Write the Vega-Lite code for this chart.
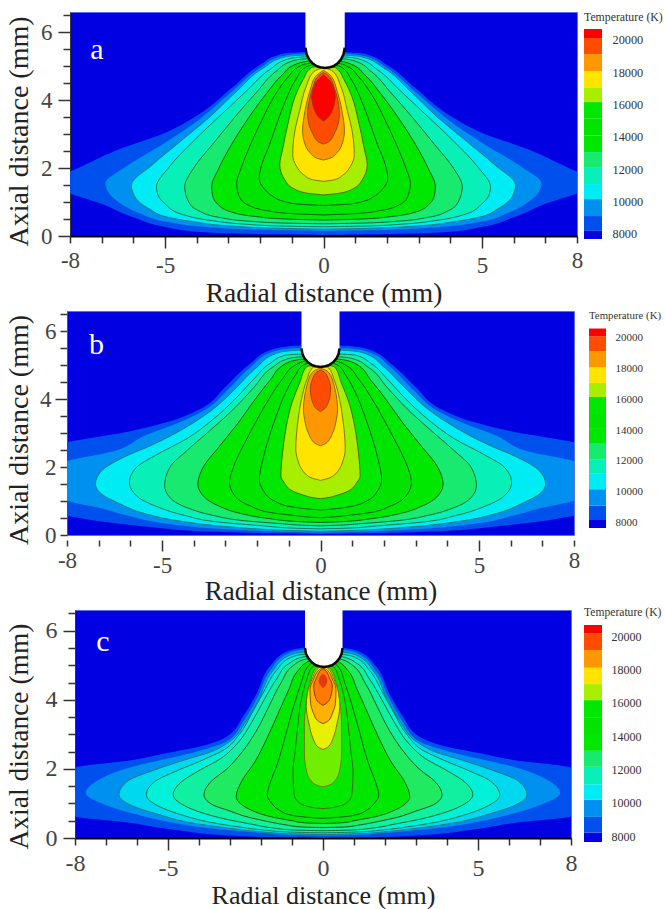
{"$schema":"https://vega.github.io/schema/vega-lite/v6.json","padding":{"left":3,"top":3,"right":0,"bottom":0},"background":"white","spacing":-5,"align":"none","columns":1,"config":{"font":"Liberation Serif","view":{"stroke":null}},
"concat":[
{"resolve":{"scale":{"fill":"independent"}},"spacing":0,"hconcat":[
{"width":1,"height":1,"data":{"values":[]},"mark":"point","encoding":{}},
{"width":507,"height":224,"view":{"fill":"#0000e2","stroke":"#5a70e8"},
"encoding":{
"y":{"field":"y","type":"quantitative","scale":{"domain":[0,6.6],"nice":false,"zero":false},"axis":{"title":"Axial distance (mm)","titleFontSize":28,"titleFontWeight":"normal","titleColor":"#222","titlePadding":7.5,"titleY":119,"values":[0,0.5,1,1.5,2,2.5,3,3.5,4,4.5,5,5.5,6,6.5],"labelExpr":"datum.value%2===0?''+datum.value:''","labelFontSize":23,"labelColor":"#444","labelPadding":6,"grid":false,"domainColor":"#333","domainWidth":1,"tickColor":"#333","tickWidth":1.5,"tickSize":{"condition":{"test":"datum.value%2===0","value":12},"value":7},"labelOverlap":false,"labelBound":false,"labelFlush":false}},
"x":{"field":"a","type":"quantitative","scale":{"domain":[-8,8],"nice":false,"zero":false},"axis":{"title":"Radial distance (mm)","titleFontSize":27.5,"titleFontWeight":"normal","titleColor":"#222","titlePadding":2,"values":[-8,-7,-6,-5,-4,-3,-2,-1,0,1,2,3,4,5,6,7,8],"labelExpr":"indexof([-8,-5,0,5,8],datum.value)>=0?(datum.value<0?'-':'')+abs(datum.value):''","labelFontSize":23,"labelColor":"#444","labelPadding":6,"grid":false,"domainColor":"#000","domainWidth":2,"tickColor":"#333","tickWidth":1.5,"tickSize":{"condition":{"test":"indexof([-5,0,5],datum.value)>=0","value":12},"value":7},"labelOverlap":false,"labelBound":false,"labelFlush":false}}},
"layer":[
{"data":{"values":[
{"k":1,"y":0.03,"a":0,"b":0},{"k":1,"y":0.05,"a":-1.5,"b":1.5},{"k":1,"y":0.08,"a":-3,"b":3},{"k":1,"y":0.12,"a":-3.9,"b":3.9},{"k":1,"y":0.26,"a":-4.95,"b":4.95},{"k":1,"y":0.55,"a":-6,"b":6},{"k":1,"y":0.97,"a":-7.07,"b":7.07},{"k":1,"y":1.25,"a":-8,"b":8},{"k":1,"y":1.57,"a":-8.9,"b":8.9},{"k":1,"y":1.9,"a":-8,"b":8},{"k":1,"y":2.53,"a":-6.53,"b":6.53},{"k":1,"y":3.06,"a":-4.95,"b":4.95},{"k":1,"y":3.6,"a":-3.9,"b":3.9},{"k":1,"y":4.38,"a":-2.87,"b":2.87},{"k":1,"y":5.03,"a":-2.02,"b":2.02},{"k":1,"y":5.37,"a":-1.29,"b":1.29},{"k":1,"y":5.42,"a":-0.6,"b":0.6},{"k":1,"y":5.45,"a":0,"b":0},
{"k":2,"y":0.15,"a":0,"b":0},{"k":2,"y":0.17,"a":-1.5,"b":1.5},{"k":2,"y":0.2,"a":-2.5,"b":2.5},{"k":2,"y":0.26,"a":-3.6,"b":3.6},{"k":2,"y":0.42,"a":-4.95,"b":4.95},{"k":2,"y":0.67,"a":-5.8,"b":5.8},{"k":2,"y":1.06,"a":-6.55,"b":6.55},{"k":2,"y":1.55,"a":-6.88,"b":6.88},{"k":2,"y":2,"a":-6.3,"b":6.3},{"k":2,"y":2.75,"a":-5,"b":5},{"k":2,"y":3.45,"a":-3.9,"b":3.9},{"k":2,"y":4.25,"a":-2.9,"b":2.9},{"k":2,"y":4.95,"a":-2,"b":2},{"k":2,"y":5.3,"a":-1.3,"b":1.3},{"k":2,"y":5.38,"a":-0.6,"b":0.6},{"k":2,"y":5.4,"a":0,"b":0},
{"k":3,"y":0.2,"a":0,"b":0},{"k":3,"y":0.23,"a":-1.5,"b":1.5},{"k":3,"y":0.3,"a":-3,"b":3},{"k":3,"y":0.42,"a":-4.1,"b":4.1},{"k":3,"y":0.55,"a":-4.9,"b":4.9},{"k":3,"y":0.8,"a":-5.5,"b":5.5},{"k":3,"y":1.15,"a":-5.95,"b":5.95},{"k":3,"y":1.5,"a":-6.06,"b":6.06},{"k":3,"y":2.1,"a":-5.4,"b":5.4},{"k":3,"y":2.8,"a":-4.5,"b":4.5},{"k":3,"y":3.5,"a":-3.6,"b":3.6},{"k":3,"y":4.3,"a":-2.7,"b":2.7},{"k":3,"y":4.95,"a":-1.9,"b":1.9},{"k":3,"y":5.28,"a":-1.2,"b":1.2},{"k":3,"y":5.33,"a":-0.6,"b":0.6},{"k":3,"y":5.35,"a":0,"b":0},
{"k":4,"y":0.27,"a":0,"b":0},{"k":4,"y":0.29,"a":-1.2,"b":1.2},{"k":4,"y":0.35,"a":-2.5,"b":2.5},{"k":4,"y":0.45,"a":-3.5,"b":3.5},{"k":4,"y":0.65,"a":-4.5,"b":4.5},{"k":4,"y":0.95,"a":-5,"b":5},{"k":4,"y":1.2,"a":-5.22,"b":5.22},{"k":4,"y":1.45,"a":-5.27,"b":5.27},{"k":4,"y":2,"a":-4.9,"b":4.9},{"k":4,"y":2.8,"a":-4.1,"b":4.1},{"k":4,"y":3.6,"a":-3.2,"b":3.2},{"k":4,"y":4.3,"a":-2.4,"b":2.4},{"k":4,"y":4.9,"a":-1.7,"b":1.7},{"k":4,"y":5.22,"a":-1.1,"b":1.1},{"k":4,"y":5.28,"a":-0.6,"b":0.6},{"k":4,"y":5.3,"a":0,"b":0},
{"k":5,"y":0.36,"a":0,"b":0},{"k":5,"y":0.38,"a":-1.2,"b":1.2},{"k":5,"y":0.44,"a":-2.4,"b":2.4},{"k":5,"y":0.55,"a":-3.3,"b":3.3},{"k":5,"y":0.75,"a":-3.95,"b":3.95},{"k":5,"y":1,"a":-4.25,"b":4.25},{"k":5,"y":1.45,"a":-4.38,"b":4.38},{"k":5,"y":2,"a":-4.1,"b":4.1},{"k":5,"y":2.7,"a":-3.5,"b":3.5},{"k":5,"y":3.5,"a":-2.8,"b":2.8},{"k":5,"y":4.25,"a":-2.1,"b":2.1},{"k":5,"y":4.85,"a":-1.5,"b":1.5},{"k":5,"y":5.15,"a":-1,"b":1},{"k":5,"y":5.22,"a":-0.6,"b":0.6},{"k":5,"y":5.25,"a":0,"b":0},
{"k":6,"y":0.47,"a":0,"b":0},{"k":6,"y":0.5,"a":-1.2,"b":1.2},{"k":6,"y":0.58,"a":-2.2,"b":2.2},{"k":6,"y":0.72,"a":-2.95,"b":2.95},{"k":6,"y":0.95,"a":-3.35,"b":3.35},{"k":6,"y":1.2,"a":-3.5,"b":3.5},{"k":6,"y":1.45,"a":-3.53,"b":3.53},{"k":6,"y":2,"a":-3.3,"b":3.3},{"k":6,"y":2.7,"a":-2.9,"b":2.9},{"k":6,"y":3.5,"a":-2.35,"b":2.35},{"k":6,"y":4.2,"a":-1.8,"b":1.8},{"k":6,"y":4.75,"a":-1.3,"b":1.3},{"k":6,"y":5.05,"a":-0.9,"b":0.9},{"k":6,"y":5.15,"a":-0.5,"b":0.5},{"k":6,"y":5.18,"a":0,"b":0},
{"k":7,"y":0.62,"a":0,"b":0},{"k":7,"y":0.66,"a":-1,"b":1},{"k":7,"y":0.75,"a":-1.8,"b":1.8},{"k":7,"y":0.9,"a":-2.35,"b":2.35},{"k":7,"y":1.15,"a":-2.65,"b":2.65},{"k":7,"y":1.55,"a":-2.74,"b":2.74},{"k":7,"y":2,"a":-2.6,"b":2.6},{"k":7,"y":2.7,"a":-2.3,"b":2.3},{"k":7,"y":3.5,"a":-1.9,"b":1.9},{"k":7,"y":4.2,"a":-1.5,"b":1.5},{"k":7,"y":4.7,"a":-1.1,"b":1.1},{"k":7,"y":5,"a":-0.75,"b":0.75},{"k":7,"y":5.1,"a":-0.4,"b":0.4},{"k":7,"y":5.13,"a":0,"b":0},
{"k":8,"y":0.9,"a":0,"b":0},{"k":8,"y":0.94,"a":-0.8,"b":0.8},{"k":8,"y":1.02,"a":-1.25,"b":1.25},{"k":8,"y":1.17,"a":-1.6,"b":1.6},{"k":8,"y":1.37,"a":-1.85,"b":1.85},{"k":8,"y":1.7,"a":-2.03,"b":2.03},{"k":8,"y":2.1,"a":-1.95,"b":1.95},{"k":8,"y":2.7,"a":-1.7,"b":1.7},{"k":8,"y":3.5,"a":-1.4,"b":1.4},{"k":8,"y":4.1,"a":-1.15,"b":1.15},{"k":8,"y":4.65,"a":-0.85,"b":0.85},{"k":8,"y":4.95,"a":-0.6,"b":0.6},{"k":8,"y":5.05,"a":-0.3,"b":0.3},{"k":8,"y":5.08,"a":0,"b":0},
{"k":9,"y":1.21,"a":0,"b":0},{"k":9,"y":1.26,"a":-0.5,"b":0.5},{"k":9,"y":1.4,"a":-0.95,"b":0.95},{"k":9,"y":1.65,"a":-1.22,"b":1.22},{"k":9,"y":2.1,"a":-1.38,"b":1.38},{"k":9,"y":2.6,"a":-1.28,"b":1.28},{"k":9,"y":3.4,"a":-1.1,"b":1.1},{"k":9,"y":4.1,"a":-0.9,"b":0.9},{"k":9,"y":4.6,"a":-0.65,"b":0.65},{"k":9,"y":4.95,"a":-0.4,"b":0.4},{"k":9,"y":5.03,"a":0,"b":0},
{"k":10,"y":1.61,"a":0,"b":0},{"k":10,"y":1.66,"a":-0.35,"b":0.35},{"k":10,"y":1.8,"a":-0.62,"b":0.62},{"k":10,"y":2.05,"a":-0.85,"b":0.85},{"k":10,"y":2.4,"a":-0.97,"b":0.97},{"k":10,"y":3,"a":-0.92,"b":0.92},{"k":10,"y":3.7,"a":-0.75,"b":0.75},{"k":10,"y":4.4,"a":-0.55,"b":0.55},{"k":10,"y":4.85,"a":-0.3,"b":0.3},{"k":10,"y":4.97,"a":0,"b":0},
{"k":11,"y":2.24,"a":0,"b":0},{"k":11,"y":2.29,"a":-0.2,"b":0.2},{"k":11,"y":2.45,"a":-0.42,"b":0.42},{"k":11,"y":2.75,"a":-0.6,"b":0.6},{"k":11,"y":3.1,"a":-0.66,"b":0.66},{"k":11,"y":3.7,"a":-0.58,"b":0.58},{"k":11,"y":4.3,"a":-0.42,"b":0.42},{"k":11,"y":4.7,"a":-0.25,"b":0.25},{"k":11,"y":4.88,"a":0,"b":0},
{"k":12,"y":2.71,"a":0,"b":0},{"k":12,"y":2.78,"a":-0.17,"b":0.17},{"k":12,"y":3,"a":-0.33,"b":0.33},{"k":12,"y":3.3,"a":-0.46,"b":0.46},{"k":12,"y":3.6,"a":-0.5,"b":0.5},{"k":12,"y":4,"a":-0.45,"b":0.45},{"k":12,"y":4.4,"a":-0.33,"b":0.33},{"k":12,"y":4.7,"a":-0.18,"b":0.18},{"k":12,"y":4.82,"a":0,"b":0},
{"k":13,"y":3.39,"a":0,"b":0},{"k":13,"y":3.47,"a":-0.12,"b":0.12},{"k":13,"y":3.65,"a":-0.25,"b":0.25},{"k":13,"y":3.9,"a":-0.34,"b":0.34},{"k":13,"y":4.1,"a":-0.37,"b":0.37},{"k":13,"y":4.35,"a":-0.32,"b":0.32},{"k":13,"y":4.6,"a":-0.18,"b":0.18},{"k":13,"y":4.75,"a":0,"b":0}
]},"mark":{"type":"area","orient":"horizontal","interpolate":"monotone","clip":true,"strokeWidth":1},"encoding":{
"x2":{"field":"b"},
"fill":{"field":"k","type":"ordinal","legend":null,"scale":{"domain":[0,1,2,3,4,5,6,7,8,9,10,11,12,13],"range":["#0000e2","#0050ee","#0090f0","#00ecf5","#08f0b8","#18ea70","#00e800","#00e400","#00e800","#a8ee00","#ffe400","#ff9800","#ff4c00","#ff0000"]}},
"stroke":{"field":"k","type":"ordinal","legend":null,"scale":{"domain":[1,2,3,4,5,6,7,8,9,10,11,12,13],"range":["transparent","transparent","#1a7f7f","#1a7a50","#1a6a30","#145a20","#145a20","#145a20","#4a6a10","#7a7a10","#8a6a10","#8a5010","#a03010"]}}}},
{"data":{"values":[{"y":4.95,"a":0.05,"b":0.05},{"y":4.97,"a":-0.1,"b":0.2},{"y":5,"a":-0.21,"b":0.31},{"y":5.05,"a":-0.29,"b":0.39},{"y":5.1,"a":-0.36,"b":0.46},{"y":5.2,"a":-0.45,"b":0.55},{"y":5.35,"a":-0.53,"b":0.63},{"y":5.55,"a":-0.57,"b":0.67},{"y":6.62,"a":-0.57,"b":0.67}]},"mark":{"type":"area","orient":"horizontal","color":"white","clip":true},"encoding":{"x2":{"field":"b"}}},
{"data":{"values":[{"a":-0.57,"y":5.55},{"a":-0.53,"y":5.35},{"a":-0.45,"y":5.2},{"a":-0.36,"y":5.1},{"a":-0.29,"y":5.05},{"a":-0.21,"y":5},{"a":-0.1,"y":4.97},{"a":0.05,"y":4.95},{"a":0.2,"y":4.97},{"a":0.31,"y":5},{"a":0.39,"y":5.05},{"a":0.46,"y":5.1},{"a":0.55,"y":5.2},{"a":0.63,"y":5.35},{"a":0.67,"y":5.55}]},"mark":{"type":"line","color":"#0a0a0a","strokeWidth":2.5}},
{"data":{"values":[{"a":-7.15,"y":5.47,"t":"a"}]},"mark":{"type":"text","color":"white","fontSize":30},"encoding":{"text":{"field":"t"}}}
]},
{"width":18,"height":227,
"encoding":{"x":{"field":"x0","type":"quantitative","scale":{"domain":[0,1],"nice":false},"axis":null},"y":{"field":"t0","type":"quantitative","scale":{"domain":[7690,21732],"nice":false,"zero":false},"axis":{"orient":"right","title":null,"values":[8000,10000,12000,14000,16000,18000,20000],"format":"d","domain":false,"ticks":false,"grid":false,"labelFontSize":12.3,"labelColor":"#333","labelPadding":10}}},
"layer":[
{"data":{"values":[{"k":0,"t0":7690,"t1":8190,"x0":0,"x1":1},{"k":1,"t0":8190,"t1":9110,"x0":0,"x1":1},{"k":2,"t0":9110,"t1":10160,"x0":0,"x1":1},{"k":3,"t0":10160,"t1":11090,"x0":0,"x1":1},{"k":4,"t0":11090,"t1":12140,"x0":0,"x1":1},{"k":5,"t0":12140,"t1":13070,"x0":0,"x1":1},{"k":6,"t0":13070,"t1":14100,"x0":0,"x1":1},{"k":7,"t0":14100,"t1":15130,"x0":0,"x1":1},{"k":8,"t0":15130,"t1":16160,"x0":0,"x1":1},{"k":9,"t0":16160,"t1":17030,"x0":0,"x1":1},{"k":10,"t0":17030,"t1":18080,"x0":0,"x1":1},{"k":11,"t0":18080,"t1":19130,"x0":0,"x1":1},{"k":12,"t0":19130,"t1":20120,"x0":0,"x1":1},{"k":13,"t0":20120,"t1":20680,"x0":0,"x1":1}]},"mark":{"type":"rect"},"encoding":{"x2":{"field":"x1"},"y2":{"field":"t1"},"fill":{"field":"k","type":"ordinal","legend":null,"scale":{"domain":[0,1,2,3,4,5,6,7,8,9,10,11,12,13],"range":["#0000e2","#0050ee","#0090f0","#00ecf5","#08f0b8","#18ea70","#00e800","#00e400","#00e800","#a8ee00","#ffe400","#ff9800","#ff4c00","#ff0000"]}}}},
{"data":{"values":[{"x0":0,"t0":21423,"s":"Temperature (K)"}]},"mark":{"type":"text","align":"left","fontSize":11.8,"color":"#333"},"encoding":{"text":{"field":"s"}}}
]}
]},
{"resolve":{"scale":{"fill":"independent"}},"spacing":0,"hconcat":[
{"width":1,"height":1,"data":{"values":[]},"mark":"point","encoding":{}},
{"width":507,"height":224,"view":{"fill":"#0000e2","stroke":"#5a70e8"},
"encoding":{
"y":{"field":"y","type":"quantitative","scale":{"domain":[0,6.6],"nice":false,"zero":false},"axis":{"title":"Axial distance (mm)","titleFontSize":28,"titleFontWeight":"normal","titleColor":"#222","titlePadding":6.5,"titleY":118.5,"values":[0,0.5,1,1.5,2,2.5,3,3.5,4,4.5,5,5.5,6,6.5],"labelExpr":"datum.value%2===0?''+datum.value:''","labelFontSize":23,"labelColor":"#444","labelPadding":4,"grid":false,"domainColor":"#555","domainWidth":1,"tickColor":"#333","tickWidth":1.5,"tickSize":{"condition":{"test":"datum.value===4","value":12},"value":7},"labelOverlap":false,"labelBound":false,"labelFlush":false}},
"x":{"field":"a","type":"quantitative","scale":{"domain":[-8,8],"nice":false,"zero":false},"axis":{"title":"Radial distance (mm)","titleFontSize":27,"titleFontWeight":"normal","titleColor":"#222","titlePadding":1,"offset":5,"values":[-8,-7,-6,-5,-4,-3,-2,-1,0,1,2,3,4,5,6,7,8],"labelExpr":"indexof([-8,-5,0,5,8],datum.value)>=0?(datum.value<0?'-':'')+abs(datum.value):''","labelFontSize":23,"labelColor":"#444","labelPadding":3,"grid":false,"domain":false,"tickColor":"#333","tickWidth":1.5,"tickSize":{"condition":{"test":"indexof([-5,0,5],datum.value)>=0","value":11},"value":6},"labelOverlap":false,"labelBound":false,"labelFlush":false}}},
"layer":[
{"data":{"values":[
{"k":1,"y":0.03,"a":0,"b":0},{"k":1,"y":0.05,"a":-1.5,"b":1.5},{"k":1,"y":0.1,"a":-3.5,"b":3.5},{"k":1,"y":0.2,"a":-5,"b":5},{"k":1,"y":0.35,"a":-6.5,"b":6.5},{"k":1,"y":0.57,"a":-8,"b":8},{"k":1,"y":0.8,"a":-9,"b":9},{"k":1,"y":1.5,"a":-9.8,"b":9.8},{"k":1,"y":2.5,"a":-9,"b":9},{"k":1,"y":2.73,"a":-8,"b":8},{"k":1,"y":3.07,"a":-5.93,"b":5.93},{"k":1,"y":3.32,"a":-4.86,"b":4.86},{"k":1,"y":3.7,"a":-3.82,"b":3.82},{"k":1,"y":4.39,"a":-2.97,"b":2.97},{"k":1,"y":5.03,"a":-2.24,"b":2.24},{"k":1,"y":5.47,"a":-1.5,"b":1.5},{"k":1,"y":5.56,"a":-1,"b":1},{"k":1,"y":5.58,"a":-0.6,"b":0.6},{"k":1,"y":5.6,"a":0,"b":0},
{"k":2,"y":0.07,"a":0,"b":0},{"k":2,"y":0.09,"a":-1,"b":1},{"k":2,"y":0.12,"a":-2,"b":2},{"k":2,"y":0.2,"a":-3.5,"b":3.5},{"k":2,"y":0.35,"a":-5,"b":5},{"k":2,"y":0.55,"a":-6,"b":6},{"k":2,"y":0.8,"a":-7,"b":7},{"k":2,"y":1,"a":-8,"b":8},{"k":2,"y":1.5,"a":-9,"b":9},{"k":2,"y":2.17,"a":-8,"b":8},{"k":2,"y":2.45,"a":-6.6,"b":6.6},{"k":2,"y":2.95,"a":-5.5,"b":5.5},{"k":2,"y":3.3,"a":-4.5,"b":4.5},{"k":2,"y":3.65,"a":-3.7,"b":3.7},{"k":2,"y":4.3,"a":-2.9,"b":2.9},{"k":2,"y":4.95,"a":-2.2,"b":2.2},{"k":2,"y":5.4,"a":-1.5,"b":1.5},{"k":2,"y":5.49,"a":-1,"b":1},{"k":2,"y":5.51,"a":-0.6,"b":0.6},{"k":2,"y":5.53,"a":0,"b":0},
{"k":3,"y":0.11,"a":0,"b":0},{"k":3,"y":0.14,"a":-1.2,"b":1.2},{"k":3,"y":0.18,"a":-2,"b":2},{"k":3,"y":0.25,"a":-3,"b":3},{"k":3,"y":0.42,"a":-4.5,"b":4.5},{"k":3,"y":0.62,"a":-5.5,"b":5.5},{"k":3,"y":0.95,"a":-6.4,"b":6.4},{"k":3,"y":1.2,"a":-6.9,"b":6.9},{"k":3,"y":1.5,"a":-7.1,"b":7.1},{"k":3,"y":1.9,"a":-6.9,"b":6.9},{"k":3,"y":2.25,"a":-6.3,"b":6.3},{"k":3,"y":2.7,"a":-5.2,"b":5.2},{"k":3,"y":3.2,"a":-4.2,"b":4.2},{"k":3,"y":3.7,"a":-3.4,"b":3.4},{"k":3,"y":4.3,"a":-2.7,"b":2.7},{"k":3,"y":4.95,"a":-2,"b":2},{"k":3,"y":5.35,"a":-1.4,"b":1.4},{"k":3,"y":5.43,"a":-0.95,"b":0.95},{"k":3,"y":5.45,"a":-0.6,"b":0.6},{"k":3,"y":5.47,"a":0,"b":0},
{"k":4,"y":0.18,"a":0,"b":0},{"k":4,"y":0.2,"a":-0.8,"b":0.8},{"k":4,"y":0.27,"a":-1.8,"b":1.8},{"k":4,"y":0.38,"a":-3.2,"b":3.2},{"k":4,"y":0.58,"a":-4.3,"b":4.3},{"k":4,"y":0.85,"a":-5.2,"b":5.2},{"k":4,"y":1.15,"a":-5.8,"b":5.8},{"k":4,"y":1.55,"a":-6.03,"b":6.03},{"k":4,"y":2,"a":-5.8,"b":5.8},{"k":4,"y":2.35,"a":-5.2,"b":5.2},{"k":4,"y":2.85,"a":-4.2,"b":4.2},{"k":4,"y":3.4,"a":-3.4,"b":3.4},{"k":4,"y":4,"a":-2.7,"b":2.7},{"k":4,"y":4.6,"a":-2.1,"b":2.1},{"k":4,"y":5.05,"a":-1.6,"b":1.6},{"k":4,"y":5.3,"a":-1.1,"b":1.1},{"k":4,"y":5.33,"a":-0.6,"b":0.6},{"k":4,"y":5.35,"a":0,"b":0},
{"k":5,"y":0.27,"a":0,"b":0},{"k":5,"y":0.29,"a":-0.6,"b":0.6},{"k":5,"y":0.33,"a":-1.2,"b":1.2},{"k":5,"y":0.42,"a":-2.4,"b":2.4},{"k":5,"y":0.58,"a":-3.4,"b":3.4},{"k":5,"y":0.8,"a":-4.2,"b":4.2},{"k":5,"y":1.1,"a":-4.75,"b":4.75},{"k":5,"y":1.45,"a":-4.92,"b":4.92},{"k":5,"y":2,"a":-4.75,"b":4.75},{"k":5,"y":2.5,"a":-4.2,"b":4.2},{"k":5,"y":3.15,"a":-3.4,"b":3.4},{"k":5,"y":3.75,"a":-2.7,"b":2.7},{"k":5,"y":4.35,"a":-2.1,"b":2.1},{"k":5,"y":4.95,"a":-1.5,"b":1.5},{"k":5,"y":5.2,"a":-1,"b":1},{"k":5,"y":5.25,"a":-0.6,"b":0.6},{"k":5,"y":5.27,"a":0,"b":0},
{"k":6,"y":0.37,"a":0,"b":0},{"k":6,"y":0.39,"a":-0.6,"b":0.6},{"k":6,"y":0.48,"a":-1.6,"b":1.6},{"k":6,"y":0.63,"a":-2.5,"b":2.5},{"k":6,"y":0.85,"a":-3.2,"b":3.2},{"k":6,"y":1.15,"a":-3.7,"b":3.7},{"k":6,"y":1.5,"a":-3.87,"b":3.87},{"k":6,"y":2,"a":-3.7,"b":3.7},{"k":6,"y":2.6,"a":-3.2,"b":3.2},{"k":6,"y":3.3,"a":-2.6,"b":2.6},{"k":6,"y":3.95,"a":-2.1,"b":2.1},{"k":6,"y":4.55,"a":-1.6,"b":1.6},{"k":6,"y":5.05,"a":-1.1,"b":1.1},{"k":6,"y":5.18,"a":-0.6,"b":0.6},{"k":6,"y":5.2,"a":0,"b":0},
{"k":7,"y":0.51,"a":0,"b":0},{"k":7,"y":0.53,"a":-0.4,"b":0.4},{"k":7,"y":0.56,"a":-0.7,"b":0.7},{"k":7,"y":0.65,"a":-1.5,"b":1.5},{"k":7,"y":0.85,"a":-2.2,"b":2.2},{"k":7,"y":1.15,"a":-2.7,"b":2.7},{"k":7,"y":1.55,"a":-2.87,"b":2.87},{"k":7,"y":2,"a":-2.75,"b":2.75},{"k":7,"y":2.7,"a":-2.4,"b":2.4},{"k":7,"y":3.4,"a":-2,"b":2},{"k":7,"y":4.05,"a":-1.6,"b":1.6},{"k":7,"y":4.6,"a":-1.2,"b":1.2},{"k":7,"y":5,"a":-0.8,"b":0.8},{"k":7,"y":5.12,"a":-0.5,"b":0.5},{"k":7,"y":5.14,"a":0,"b":0},
{"k":8,"y":0.74,"a":0,"b":0},{"k":8,"y":0.76,"a":-0.3,"b":0.3},{"k":8,"y":0.83,"a":-0.9,"b":0.9},{"k":8,"y":1,"a":-1.45,"b":1.45},{"k":8,"y":1.3,"a":-1.8,"b":1.8},{"k":8,"y":1.65,"a":-1.93,"b":1.93},{"k":8,"y":2.1,"a":-1.85,"b":1.85},{"k":8,"y":2.8,"a":-1.65,"b":1.65},{"k":8,"y":3.5,"a":-1.4,"b":1.4},{"k":8,"y":4.2,"a":-1.1,"b":1.1},{"k":8,"y":4.7,"a":-0.8,"b":0.8},{"k":8,"y":5,"a":-0.55,"b":0.55},{"k":8,"y":5.07,"a":-0.3,"b":0.3},{"k":8,"y":5.09,"a":0,"b":0},
{"k":9,"y":1.07,"a":0,"b":0},{"k":9,"y":1.11,"a":-0.3,"b":0.3},{"k":9,"y":1.15,"a":-0.45,"b":0.45},{"k":9,"y":1.28,"a":-0.85,"b":0.85},{"k":9,"y":1.55,"a":-1.15,"b":1.15},{"k":9,"y":1.74,"a":-1.25,"b":1.25},{"k":9,"y":2.4,"a":-1.2,"b":1.2},{"k":9,"y":3.2,"a":-1.08,"b":1.08},{"k":9,"y":3.9,"a":-0.9,"b":0.9},{"k":9,"y":4.5,"a":-0.65,"b":0.65},{"k":9,"y":4.95,"a":-0.45,"b":0.45},{"k":9,"y":5.03,"a":0,"b":0},
{"k":10,"y":1.61,"a":0,"b":0},{"k":10,"y":1.67,"a":-0.25,"b":0.25},{"k":10,"y":1.78,"a":-0.45,"b":0.45},{"k":10,"y":1.95,"a":-0.6,"b":0.6},{"k":10,"y":2.25,"a":-0.73,"b":0.73},{"k":10,"y":2.53,"a":-0.78,"b":0.78},{"k":10,"y":3.3,"a":-0.72,"b":0.72},{"k":10,"y":4,"a":-0.6,"b":0.6},{"k":10,"y":4.6,"a":-0.42,"b":0.42},{"k":10,"y":4.93,"a":-0.25,"b":0.25},{"k":10,"y":4.98,"a":0,"b":0},
{"k":11,"y":2.63,"a":0,"b":0},{"k":11,"y":2.7,"a":-0.17,"b":0.17},{"k":11,"y":3,"a":-0.38,"b":0.38},{"k":11,"y":3.4,"a":-0.5,"b":0.5},{"k":11,"y":3.7,"a":-0.54,"b":0.54},{"k":11,"y":4.1,"a":-0.5,"b":0.5},{"k":11,"y":4.4,"a":-0.43,"b":0.43},{"k":11,"y":4.8,"a":-0.25,"b":0.25},{"k":11,"y":4.92,"a":0,"b":0},
{"k":12,"y":3.64,"a":0,"b":0},{"k":12,"y":3.72,"a":-0.13,"b":0.13},{"k":12,"y":3.85,"a":-0.22,"b":0.22},{"k":12,"y":4.1,"a":-0.3,"b":0.3},{"k":12,"y":4.3,"a":-0.32,"b":0.32},{"k":12,"y":4.6,"a":-0.25,"b":0.25},{"k":12,"y":4.8,"a":-0.12,"b":0.12},{"k":12,"y":4.86,"a":0,"b":0}
]},"mark":{"type":"area","orient":"horizontal","interpolate":"monotone","clip":true,"strokeWidth":1},"encoding":{
"x2":{"field":"b"},
"fill":{"field":"k","type":"ordinal","legend":null,"scale":{"domain":[0,1,2,3,4,5,6,7,8,9,10,11,12],"range":["#0000e2","#0050ee","#0090f0","#00ecf5","#08f0b8","#18ea70","#00e800","#00e400","#00e800","#a8ee00","#ffe400","#ff9800","#ff4c00"]}},
"stroke":{"field":"k","type":"ordinal","legend":null,"scale":{"domain":[1,2,3,4,5,6,7,8,9,10,11,12],"range":["transparent","transparent","#1a7f7f","#1a7a50","#1a6a30","#145a20","#145a20","#145a20","#4a6a10","#7a7a10","#8a6a10","#8a5010"]}}}},
{"data":{"values":[{"y":4.95,"a":0,"b":0},{"y":4.97,"a":-0.15,"b":0.15},{"y":5,"a":-0.26,"b":0.26},{"y":5.05,"a":-0.34,"b":0.34},{"y":5.1,"a":-0.41,"b":0.41},{"y":5.2,"a":-0.5,"b":0.5},{"y":5.33,"a":-0.57,"b":0.57},{"y":5.5,"a":-0.6,"b":0.6},{"y":6.62,"a":-0.6,"b":0.6}]},"mark":{"type":"area","orient":"horizontal","color":"white","clip":true},"encoding":{"x2":{"field":"b"}}},
{"data":{"values":[{"a":-0.6,"y":5.5},{"a":-0.57,"y":5.33},{"a":-0.5,"y":5.2},{"a":-0.41,"y":5.1},{"a":-0.34,"y":5.05},{"a":-0.26,"y":5},{"a":-0.15,"y":4.97},{"a":0,"y":4.95},{"a":0.15,"y":4.97},{"a":0.26,"y":5},{"a":0.34,"y":5.05},{"a":0.41,"y":5.1},{"a":0.5,"y":5.2},{"a":0.57,"y":5.33},{"a":0.6,"y":5.5}]},"mark":{"type":"line","color":"#0a0a0a","strokeWidth":2.5}},
{"data":{"values":[{"a":-7.07,"y":5.6,"t":"b"}]},"mark":{"type":"text","color":"white","fontSize":30},"encoding":{"text":{"field":"t"}}}
]},
{"width":8,"height":1,"data":{"values":[]},"mark":"point","encoding":{}},
{"width":17,"height":217,
"encoding":{"x":{"field":"x0","type":"quantitative","scale":{"domain":[0,1],"nice":false},"axis":null},"y":{"field":"t0","type":"quantitative","scale":{"domain":[7655,21722],"nice":false,"zero":false},"axis":{"orient":"right","title":null,"values":[8000,10000,12000,14000,16000,18000,20000],"format":"d","domain":false,"ticks":false,"grid":false,"labelFontSize":11,"labelColor":"#333","labelPadding":9}}},
"layer":[
{"data":{"values":[{"k":0,"t0":7655,"t1":8175,"x0":0,"x1":1},{"k":1,"t0":8175,"t1":9105,"x0":0,"x1":1},{"k":2,"t0":9105,"t1":10170,"x0":0,"x1":1},{"k":3,"t0":10170,"t1":11164,"x0":0,"x1":1},{"k":4,"t0":11164,"t1":12120,"x0":0,"x1":1},{"k":5,"t0":12120,"t1":13112,"x0":0,"x1":1},{"k":6,"t0":13112,"t1":14134,"x0":0,"x1":1},{"k":7,"t0":14134,"t1":15108,"x0":0,"x1":1},{"k":8,"t0":15108,"t1":16148,"x0":0,"x1":1},{"k":9,"t0":16148,"t1":17058,"x0":0,"x1":1},{"k":10,"t0":17058,"t1":18073,"x0":0,"x1":1},{"k":11,"t0":18073,"t1":19113,"x0":0,"x1":1},{"k":12,"t0":19113,"t1":20086,"x0":0,"x1":1},{"k":13,"t0":20086,"t1":20586,"x0":0,"x1":1}]},"mark":{"type":"rect"},"encoding":{"x2":{"field":"x1"},"y2":{"field":"t1"},"fill":{"field":"k","type":"ordinal","legend":null,"scale":{"domain":[0,1,2,3,4,5,6,7,8,9,10,11,12,13],"range":["#0000e2","#0050ee","#0090f0","#00ecf5","#08f0b8","#18ea70","#00e800","#00e400","#00e800","#a8ee00","#ffe400","#ff9800","#ff4c00","#ff0000"]}}}},
{"data":{"values":[{"x0":0,"t0":21366,"s":"Temperature (K)"}]},"mark":{"type":"text","align":"left","fontSize":10.8,"color":"#333"},"encoding":{"text":{"field":"s"}}}
]}
]},
{"resolve":{"scale":{"fill":"independent"}},"spacing":0,"hconcat":[
{"width":1,"height":1,"data":{"values":[]},"mark":"point","encoding":{}},
{"width":496,"height":228,"view":{"fill":"#0000e2","stroke":"#5a70e8"},
"encoding":{
"y":{"field":"y","type":"quantitative","scale":{"domain":[0,6.6],"nice":false,"zero":false},"axis":{"title":"Axial distance (mm)","titleFontSize":27.5,"titleFontWeight":"normal","titleColor":"#222","titlePadding":12,"titleY":126,"values":[0,0.5,1,1.5,2,2.5,3,3.5,4,4.5,5,5.5,6,6.5],"labelExpr":"datum.value%2===0?''+datum.value:''","labelFontSize":24,"labelColor":"#444","labelPadding":6,"grid":false,"domainColor":"#333","domainWidth":1,"tickColor":"#333","tickWidth":1.5,"tickSize":{"condition":{"test":"datum.value%2===0","value":12},"value":7},"labelOverlap":false,"labelBound":false,"labelFlush":false}},
"x":{"field":"a","type":"quantitative","scale":{"domain":[-8,8],"nice":false,"zero":false},"axis":{"title":"Radial distance (mm)","titleFontSize":26,"titleFontWeight":"normal","titleColor":"#222","titlePadding":2,"values":[-8,-7,-6,-5,-4,-3,-2,-1,0,1,2,3,4,5,6,7,8],"labelExpr":"indexof([-8,-5,0,5,8],datum.value)>=0?(datum.value<0?'-':'')+abs(datum.value):''","labelFontSize":24,"labelColor":"#444","labelPadding":6,"grid":false,"domainColor":"#000","domainWidth":2,"tickColor":"#333","tickWidth":1.5,"tickSize":{"condition":{"test":"indexof([-5,0,5],datum.value)>=0","value":12},"value":7},"labelOverlap":false,"labelBound":false,"labelFlush":false}}},
"layer":[
{"data":{"values":[
{"k":1,"y":0.01,"a":0,"b":0},{"k":1,"y":0.03,"a":-2,"b":2},{"k":1,"y":0.07,"a":-3,"b":3},{"k":1,"y":0.13,"a":-3.9,"b":3.9},{"k":1,"y":0.2,"a":-4.5,"b":4.5},{"k":1,"y":0.29,"a":-5.2,"b":5.2},{"k":1,"y":0.43,"a":-6.13,"b":6.13},{"k":1,"y":0.62,"a":-8,"b":8},{"k":1,"y":1.3,"a":-9.2,"b":9.2},{"k":1,"y":2.04,"a":-8,"b":8},{"k":1,"y":2.26,"a":-6.13,"b":6.13},{"k":1,"y":2.46,"a":-5.03,"b":5.03},{"k":1,"y":2.65,"a":-3.97,"b":3.97},{"k":1,"y":2.94,"a":-3.1,"b":3.1},{"k":1,"y":3.52,"a":-2.58,"b":2.58},{"k":1,"y":4.2,"a":-2.13,"b":2.13},{"k":1,"y":4.97,"a":-1.71,"b":1.71},{"k":1,"y":5.4,"a":-1.16,"b":1.16},{"k":1,"y":5.5,"a":-0.68,"b":0.68},{"k":1,"y":5.52,"a":0,"b":0},
{"k":2,"y":0.06,"a":0,"b":0},{"k":2,"y":0.08,"a":-1,"b":1},{"k":2,"y":0.15,"a":-2,"b":2},{"k":2,"y":0.3,"a":-3.8,"b":3.8},{"k":2,"y":0.47,"a":-5,"b":5},{"k":2,"y":0.68,"a":-6,"b":6},{"k":2,"y":0.95,"a":-7,"b":7},{"k":2,"y":1.3,"a":-7.65,"b":7.65},{"k":2,"y":1.7,"a":-7.2,"b":7.2},{"k":2,"y":2.05,"a":-6.2,"b":6.2},{"k":2,"y":2.3,"a":-5,"b":5},{"k":2,"y":2.52,"a":-4,"b":4},{"k":2,"y":2.8,"a":-3.1,"b":3.1},{"k":2,"y":3.4,"a":-2.55,"b":2.55},{"k":2,"y":4.1,"a":-2.1,"b":2.1},{"k":2,"y":4.85,"a":-1.7,"b":1.7},{"k":2,"y":5.33,"a":-1.15,"b":1.15},{"k":2,"y":5.45,"a":-0.68,"b":0.68},{"k":2,"y":5.47,"a":0,"b":0},
{"k":3,"y":0.1,"a":0,"b":0},{"k":3,"y":0.12,"a":-1,"b":1},{"k":3,"y":0.18,"a":-2,"b":2},{"k":3,"y":0.28,"a":-3,"b":3},{"k":3,"y":0.45,"a":-4.3,"b":4.3},{"k":3,"y":0.68,"a":-5.3,"b":5.3},{"k":3,"y":0.95,"a":-6.2,"b":6.2},{"k":3,"y":1.25,"a":-6.58,"b":6.58},{"k":3,"y":1.65,"a":-6.3,"b":6.3},{"k":3,"y":1.95,"a":-5.5,"b":5.5},{"k":3,"y":2.25,"a":-4.5,"b":4.5},{"k":3,"y":2.5,"a":-3.6,"b":3.6},{"k":3,"y":2.8,"a":-3,"b":3},{"k":3,"y":3.35,"a":-2.5,"b":2.5},{"k":3,"y":4.05,"a":-2.05,"b":2.05},{"k":3,"y":4.8,"a":-1.65,"b":1.65},{"k":3,"y":5.28,"a":-1.1,"b":1.1},{"k":3,"y":5.38,"a":-0.65,"b":0.65},{"k":3,"y":5.4,"a":0,"b":0},
{"k":4,"y":0.15,"a":0,"b":0},{"k":4,"y":0.17,"a":-1,"b":1},{"k":4,"y":0.23,"a":-1.9,"b":1.9},{"k":4,"y":0.32,"a":-2.7,"b":2.7},{"k":4,"y":0.45,"a":-3.6,"b":3.6},{"k":4,"y":0.68,"a":-4.6,"b":4.6},{"k":4,"y":0.92,"a":-5.3,"b":5.3},{"k":4,"y":1.25,"a":-5.7,"b":5.7},{"k":4,"y":1.65,"a":-5.4,"b":5.4},{"k":4,"y":1.95,"a":-4.7,"b":4.7},{"k":4,"y":2.25,"a":-3.9,"b":3.9},{"k":4,"y":2.55,"a":-3.2,"b":3.2},{"k":4,"y":3,"a":-2.7,"b":2.7},{"k":4,"y":3.6,"a":-2.3,"b":2.3},{"k":4,"y":4.25,"a":-1.9,"b":1.9},{"k":4,"y":4.85,"a":-1.5,"b":1.5},{"k":4,"y":5.22,"a":-1.05,"b":1.05},{"k":4,"y":5.32,"a":-0.6,"b":0.6},{"k":4,"y":5.34,"a":0,"b":0},
{"k":5,"y":0.21,"a":0,"b":0},{"k":5,"y":0.23,"a":-0.9,"b":0.9},{"k":5,"y":0.3,"a":-1.7,"b":1.7},{"k":5,"y":0.4,"a":-2.3,"b":2.3},{"k":5,"y":0.52,"a":-3,"b":3},{"k":5,"y":0.73,"a":-3.9,"b":3.9},{"k":5,"y":0.95,"a":-4.5,"b":4.5},{"k":5,"y":1.25,"a":-4.83,"b":4.83},{"k":5,"y":1.6,"a":-4.6,"b":4.6},{"k":5,"y":1.95,"a":-4,"b":4},{"k":5,"y":2.3,"a":-3.3,"b":3.3},{"k":5,"y":2.75,"a":-2.75,"b":2.75},{"k":5,"y":3.35,"a":-2.3,"b":2.3},{"k":5,"y":4,"a":-1.9,"b":1.9},{"k":5,"y":4.6,"a":-1.5,"b":1.5},{"k":5,"y":5.05,"a":-1.1,"b":1.1},{"k":5,"y":5.25,"a":-0.6,"b":0.6},{"k":5,"y":5.27,"a":0,"b":0},
{"k":6,"y":0.3,"a":0,"b":0},{"k":6,"y":0.32,"a":-0.7,"b":0.7},{"k":6,"y":0.38,"a":-1.2,"b":1.2},{"k":6,"y":0.5,"a":-1.9,"b":1.9},{"k":6,"y":0.6,"a":-2.4,"b":2.4},{"k":6,"y":0.78,"a":-3,"b":3},{"k":6,"y":0.98,"a":-3.6,"b":3.6},{"k":6,"y":1.25,"a":-3.84,"b":3.84},{"k":6,"y":1.6,"a":-3.65,"b":3.65},{"k":6,"y":2,"a":-3.1,"b":3.1},{"k":6,"y":2.5,"a":-2.6,"b":2.6},{"k":6,"y":3.1,"a":-2.15,"b":2.15},{"k":6,"y":3.8,"a":-1.75,"b":1.75},{"k":6,"y":4.5,"a":-1.35,"b":1.35},{"k":6,"y":5,"a":-0.95,"b":0.95},{"k":6,"y":5.18,"a":-0.55,"b":0.55},{"k":6,"y":5.2,"a":0,"b":0},
{"k":7,"y":0.42,"a":0,"b":0},{"k":7,"y":0.44,"a":-0.6,"b":0.6},{"k":7,"y":0.5,"a":-1,"b":1},{"k":7,"y":0.62,"a":-1.7,"b":1.7},{"k":7,"y":0.8,"a":-2.3,"b":2.3},{"k":7,"y":0.95,"a":-2.6,"b":2.6},{"k":7,"y":1.2,"a":-2.8,"b":2.8},{"k":7,"y":1.6,"a":-2.65,"b":2.65},{"k":7,"y":2.2,"a":-2.2,"b":2.2},{"k":7,"y":2.9,"a":-1.8,"b":1.8},{"k":7,"y":3.6,"a":-1.45,"b":1.45},{"k":7,"y":4.3,"a":-1.1,"b":1.1},{"k":7,"y":4.85,"a":-0.8,"b":0.8},{"k":7,"y":5.12,"a":-0.45,"b":0.45},{"k":7,"y":5.14,"a":0,"b":0},
{"k":8,"y":0.57,"a":0,"b":0},{"k":8,"y":0.6,"a":-0.5,"b":0.5},{"k":8,"y":0.68,"a":-1.1,"b":1.1},{"k":8,"y":0.8,"a":-1.4,"b":1.4},{"k":8,"y":1,"a":-1.65,"b":1.65},{"k":8,"y":1.25,"a":-1.8,"b":1.8},{"k":8,"y":1.6,"a":-1.7,"b":1.7},{"k":8,"y":2.2,"a":-1.45,"b":1.45},{"k":8,"y":3,"a":-1.2,"b":1.2},{"k":8,"y":3.8,"a":-0.95,"b":0.95},{"k":8,"y":4.5,"a":-0.7,"b":0.7},{"k":8,"y":4.95,"a":-0.5,"b":0.5},{"k":8,"y":5.08,"a":-0.3,"b":0.3},{"k":8,"y":5.1,"a":0,"b":0},
{"k":9,"y":0.85,"a":0,"b":0},{"k":9,"y":0.88,"a":-0.3,"b":0.3},{"k":9,"y":0.93,"a":-0.55,"b":0.55},{"k":9,"y":1.05,"a":-0.8,"b":0.8},{"k":9,"y":1.25,"a":-0.93,"b":0.93},{"k":9,"y":1.9,"a":-0.97,"b":0.97},{"k":9,"y":2.5,"a":-0.9,"b":0.9},{"k":9,"y":3.2,"a":-0.82,"b":0.82},{"k":9,"y":4,"a":-0.7,"b":0.7},{"k":9,"y":4.6,"a":-0.52,"b":0.52},{"k":9,"y":4.95,"a":-0.35,"b":0.35},{"k":9,"y":5.05,"a":0,"b":0},
{"k":10,"y":1.48,"a":0,"b":0},{"k":10,"y":1.53,"a":-0.2,"b":0.2},{"k":10,"y":1.65,"a":-0.38,"b":0.38},{"k":10,"y":1.9,"a":-0.52,"b":0.52},{"k":10,"y":2.46,"a":-0.6,"b":0.6},{"k":10,"y":3.2,"a":-0.6,"b":0.6},{"k":10,"y":3.9,"a":-0.55,"b":0.55},{"k":10,"y":4.5,"a":-0.42,"b":0.42},{"k":10,"y":4.9,"a":-0.25,"b":0.25},{"k":10,"y":5,"a":0,"b":0},
{"k":11,"y":2.56,"a":0,"b":0},{"k":11,"y":2.65,"a":-0.18,"b":0.18},{"k":11,"y":2.9,"a":-0.33,"b":0.33},{"k":11,"y":3.3,"a":-0.45,"b":0.45},{"k":11,"y":3.8,"a":-0.54,"b":0.54},{"k":11,"y":4.2,"a":-0.5,"b":0.5},{"k":11,"y":4.6,"a":-0.35,"b":0.35},{"k":11,"y":4.92,"a":-0.15,"b":0.15},{"k":11,"y":4.98,"a":0,"b":0},
{"k":12,"y":3.31,"a":0,"b":0},{"k":12,"y":3.4,"a":-0.18,"b":0.18},{"k":12,"y":3.6,"a":-0.3,"b":0.3},{"k":12,"y":3.9,"a":-0.4,"b":0.4},{"k":12,"y":4.3,"a":-0.42,"b":0.42},{"k":12,"y":4.6,"a":-0.3,"b":0.3},{"k":12,"y":4.85,"a":-0.15,"b":0.15},{"k":12,"y":4.93,"a":0,"b":0},
{"k":13,"y":3.84,"a":0,"b":0},{"k":13,"y":3.92,"a":-0.13,"b":0.13},{"k":13,"y":4.1,"a":-0.25,"b":0.25},{"k":13,"y":4.4,"a":-0.3,"b":0.3},{"k":13,"y":4.65,"a":-0.2,"b":0.2},{"k":13,"y":4.85,"a":-0.08,"b":0.08},{"k":13,"y":4.9,"a":0,"b":0},
{"k":14,"y":4.34,"a":0,"b":0},{"k":14,"y":4.42,"a":-0.09,"b":0.09},{"k":14,"y":4.55,"a":-0.14,"b":0.14},{"k":14,"y":4.68,"a":-0.09,"b":0.09},{"k":14,"y":4.76,"a":0,"b":0}
]},"mark":{"type":"area","orient":"horizontal","interpolate":"monotone","clip":true,"strokeWidth":1},"encoding":{
"x2":{"field":"b"},
"fill":{"field":"k","type":"ordinal","legend":null,"scale":{"domain":[1,2,3,4,5,6,7,8,9,10,11,12,13,14],"range":["#0050ee","#0090f0","#00d8f0","#00f0d8","#10f0a0","#20ea60","#00e800","#00e600","#00e800","#70ee00","#e6f000","#ffb000","#ff7a00","#e03a10"]}},
"stroke":{"field":"k","type":"ordinal","legend":null,"scale":{"domain":[1,2,3,4,5,6,7,8,9,10,11,12,13,14],"range":["transparent","transparent","#1a7f9f","#1a7f7f","#1a7a50","#1a6a30","#145a20","#145a20","#145a20","#3a6a10","#7a7a10","#8a6a10","#8a5010","#a03010"]}}}},
{"data":{"values":[{"y":4.95,"a":0.03,"b":0.03},{"y":4.97,"a":-0.12,"b":0.18},{"y":5,"a":-0.23,"b":0.29},{"y":5.05,"a":-0.31,"b":0.37},{"y":5.1,"a":-0.38,"b":0.44},{"y":5.2,"a":-0.47,"b":0.53},{"y":5.33,"a":-0.55,"b":0.6},{"y":5.5,"a":-0.58,"b":0.63},{"y":6.62,"a":-0.58,"b":0.63}]},"mark":{"type":"area","orient":"horizontal","color":"white","clip":true},"encoding":{"x2":{"field":"b"}}},
{"data":{"values":[{"a":-0.58,"y":5.5},{"a":-0.55,"y":5.33},{"a":-0.47,"y":5.2},{"a":-0.38,"y":5.1},{"a":-0.31,"y":5.05},{"a":-0.23,"y":5},{"a":-0.12,"y":4.97},{"a":0.03,"y":4.95},{"a":0.18,"y":4.97},{"a":0.29,"y":5},{"a":0.37,"y":5.05},{"a":0.44,"y":5.1},{"a":0.53,"y":5.2},{"a":0.6,"y":5.33},{"a":0.63,"y":5.5}]},"mark":{"type":"line","color":"#0a0a0a","strokeWidth":2.5}},
{"data":{"values":[{"a":-7.1,"y":5.68,"t":"c"}]},"mark":{"type":"text","color":"white","fontSize":30},"encoding":{"text":{"field":"t"}}}
]},
{"width":6,"height":1,"data":{"values":[]},"mark":"point","encoding":{}},
{"width":18,"height":232,
"encoding":{"x":{"field":"x0","type":"quantitative","scale":{"domain":[0,1],"nice":false},"axis":null},"y":{"field":"t0","type":"quantitative","scale":{"domain":[7658,21560],"nice":false,"zero":false},"axis":{"orient":"right","title":null,"values":[8000,10000,12000,14000,16000,18000,20000],"format":"d","domain":false,"ticks":false,"grid":false,"labelFontSize":12,"labelColor":"#333","labelPadding":9}}},
"layer":[
{"data":{"values":[{"k":0,"t0":7658,"t1":8220,"x0":0,"x1":1},{"k":1,"t0":8220,"t1":9160,"x0":0,"x1":1},{"k":2,"t0":9160,"t1":10200,"x0":0,"x1":1},{"k":3,"t0":10200,"t1":11120,"x0":0,"x1":1},{"k":4,"t0":11120,"t1":12160,"x0":0,"x1":1},{"k":5,"t0":12160,"t1":13120,"x0":0,"x1":1},{"k":6,"t0":13120,"t1":14130,"x0":0,"x1":1},{"k":7,"t0":14130,"t1":15140,"x0":0,"x1":1},{"k":8,"t0":15140,"t1":16160,"x0":0,"x1":1},{"k":9,"t0":16160,"t1":17120,"x0":0,"x1":1},{"k":10,"t0":17120,"t1":18100,"x0":0,"x1":1},{"k":11,"t0":18100,"t1":19160,"x0":0,"x1":1},{"k":12,"t0":19160,"t1":20160,"x0":0,"x1":1},{"k":13,"t0":20160,"t1":20660,"x0":0,"x1":1}]},"mark":{"type":"rect"},"encoding":{"x2":{"field":"x1"},"y2":{"field":"t1"},"fill":{"field":"k","type":"ordinal","legend":null,"scale":{"domain":[0,1,2,3,4,5,6,7,8,9,10,11,12,13],"range":["#0000e2","#0050ee","#0090f0","#00ecf5","#08f0b8","#18ea70","#00e800","#00e400","#00e800","#a8ee00","#ffe400","#ff9800","#ff4c00","#ff0000"]}}}},
{"data":{"values":[{"x0":0,"t0":21398,"s":"Temperature (K)"}]},"mark":{"type":"text","align":"left","fontSize":11.6,"color":"#333"},"encoding":{"text":{"field":"s"}}}
]}
]}
]}
